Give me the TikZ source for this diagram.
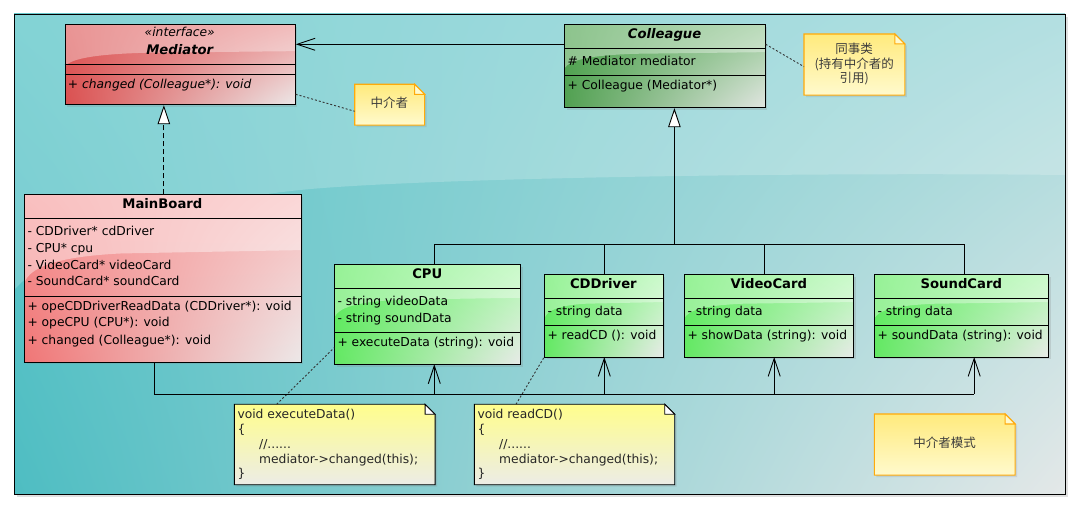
\documentclass[tikz,border=0pt]{standalone}
\usepackage{fontspec}
\setmainfont{DejaVu Sans}
\newfontfamily\cjk{Noto Sans CJK SC}
\usetikzlibrary{arrows.meta,shadows,shadings,calc}
\definecolor{bgTL}{RGB}{100,200,203}
\definecolor{bgTR}{RGB}{160,216,218}
\definecolor{bgBL}{RGB}{78,189,194}
\definecolor{bgBR}{RGB}{228,232,232}
\definecolor{rA1}{RGB}{222,92,92}
\definecolor{rA2}{RGB}{235,152,152}
\definecolor{rA3}{RGB}{218,80,80}
\definecolor{rA4}{RGB}{236,232,232}
\definecolor{rB1}{RGB}{246,150,150}
\definecolor{rB2}{RGB}{248,188,188}
\definecolor{rB3}{RGB}{240,118,118}
\definecolor{rB4}{RGB}{236,232,232}
\definecolor{gD1}{RGB}{80,165,80}
\definecolor{gD2}{RGB}{150,200,150}
\definecolor{gD3}{RGB}{82,160,82}
\definecolor{gD4}{RGB}{226,230,226}
\definecolor{gL1}{RGB}{95,236,95}
\definecolor{gL2}{RGB}{175,248,175}
\definecolor{gL3}{RGB}{100,232,100}
\definecolor{gL4}{RGB}{232,234,232}
\definecolor{ylA}{RGB}{255,254,140}
\definecolor{ylB}{RGB}{245,240,75}
\definecolor{ylC}{RGB}{236,236,230}
\definecolor{ntA}{RGB}{255,234,125}
\definecolor{ntB}{RGB}{255,224,75}
\definecolor{ntC}{RGB}{255,250,205}
\definecolor{ntD}{RGB}{255,170,10}
\definecolor{cjkgray}{RGB}{60,60,60}
\begin{document}
\begin{tikzpicture}[x=1pt,y=-1pt,
  ln/.style={draw=black, line width=0.9pt},
  gloss/.style={path picture={\fill[white,opacity=#1] let \p1=(path picture bounding box.north west), \p2=(path picture bounding box.south east) in
     (\x1,\y1) -- (\x2,\y1) -- (\x2,{\y1+0.33*(\y2-\y1)})
     -- ({\x1+0.35*(\x2-\x1)},{\y1+0.35*(\y2-\y1)})
     .. controls ({\x1+0.1*(\x2-\x1)},{\y1+0.37*(\y2-\y1)}) and ({\x1+0.02*(\x2-\x1)},{\y1+0.44*(\y2-\y1)}) .. (\x1,{\y1+0.52*(\y2-\y1)}) -- cycle;}},
  cls/.style={draw=black, line width=0.9pt, inner sep=0pt, anchor=north west,
    drop shadow={shadow xshift=2pt, shadow yshift=-2pt, opacity=0.22}},
  redA/.style={upper left=rA1, upper right=rA2, lower left=rA3, lower right=rA4, gloss=0.35},
  redB/.style={upper left=rB1, upper right=rB2, lower left=rB3, lower right=rB4, gloss=0.4},
  grnD/.style={upper left=gD1, upper right=gD2, lower left=gD3, lower right=gD4, gloss=0.35},
  grnL/.style={upper left=gL1, upper right=gL2, lower left=gL3, lower right=gL4, gloss=0.35},
  notenode/.style={inner sep=0pt, anchor=north west},
  yellownote/.style={top color=ntA, middle color=ntB, bottom color=ntC, draw=ntD, line width=1.1pt,
    drop shadow={shadow xshift=2pt, shadow yshift=-2pt, opacity=0.18}},
  codenote/.style={top color=ylA, middle color=ylB, bottom color=ylC, draw=black, line width=0.9pt,
    drop shadow={shadow xshift=2pt, shadow yshift=-2pt, opacity=0.22}},
  txt/.style={font=\fontsize{12.3}{14}\selectfont, inner sep=0pt, text height=8.6pt, text depth=0pt, anchor=west},
  txti/.style={txt, font=\fontsize{12.3}{14}\selectfont\itshape},
  ttl/.style={font=\fontsize{13.2}{15}\selectfont\bfseries, inner sep=0pt, text height=9.5pt, text depth=0pt, anchor=center},
  ttli/.style={ttl, font=\fontsize{13.2}{15}\selectfont\bfseries\itshape},
  sttxt/.style={txt, anchor=center, font=\fontsize{12.3}{14}\selectfont\itshape},
  code/.style={font=\fontsize{12.3}{14}\selectfont, inner sep=0pt, text height=8.6pt, text depth=0pt, anchor=west, text=black!85},
  cjktxt/.style={font=\cjk\fontsize{12.5}{14}\selectfont, inner sep=0pt, text height=8.6pt, text depth=0pt, anchor=center, text=cjkgray},
  assoc/.style={ln, -{Straight Barb[length=18pt,width=12pt]}},
  real/.style={ln, dash pattern=on 5pt off 3pt, -{Triangle[fill=white,length=19pt,width=12.5pt]}},
  gen/.style={ln, -{Triangle[fill=white,length=19pt,width=12.5pt]}},
  dotl/.style={draw=black!80, line width=0.9pt, dash pattern=on 2pt off 2pt}
]
\useasboundingbox (0,0) rectangle (1079,518);
% background
\fill[black!12] (17,17) rectangle (1068,497);
\shade[upper left=bgTL, upper right=bgTR, lower left=bgBL, lower right=bgBR] (14,14) rectangle (1065,494);
\fill[white, opacity=0.2] (14,14) -- (1065,14) -- (1065,175) .. controls (800,172) and (420,178) .. (300,190) .. controls (160,205) and (60,240) .. (14,290) -- cycle;
\draw[black, line width=0.9pt] (14,14) rectangle (1065,494);

% Mediator
\node[cls, redA, minimum width=230.1pt, minimum height=80pt] (med) at (64.7,24.3) {};
\draw[ln] (64.7,64.3) -- (294.8,64.3);
\draw[ln] (64.7,74.3) -- (294.8,74.3);
\node[sttxt] (medS) at (179.75,32.7) {«interface»};
\node[ttli] (medT) at (179.75,49.7) {Mediator};
\node[txti] (medM1) at (67.7,84) {+ changed (Colleague*): void};

% Colleague
\node[cls, grnD, minimum width=200.4pt, minimum height=83pt] (col) at (564.4,24.3) {};
\draw[ln] (564.4,48.3) -- (764.8,48.3);
\draw[ln] (564.4,75.3) -- (764.8,75.3);
\node[ttli] (colT) at (664.6,33.7) {Colleague};
\node[txt] (colA1) at (567.4,61) {\# Mediator mediator};
\node[txt] (colM1) at (567.4,85) {+ Colleague (Mediator*)};

% MainBoard
\node[cls, redB, minimum width=276.2pt, minimum height=167.7pt] (mb) at (24.3,194.3) {};
\draw[ln] (24.3,218.3) -- (300.5,218.3);
\draw[ln] (24.3,296.3) -- (300.5,296.3);
\node[ttl] (mbT) at (162.4,203.3) {MainBoard};
\node[txt] (mbA1) at (27.3,231) {- CDDriver* cdDriver};
\node[txt] (mbA2) at (27.3,248) {- CPU* cpu};
\node[txt] (mbA3) at (27.3,265) {- VideoCard* videoCard};
\node[txt] (mbA4) at (27.3,281.7) {- SoundCard* soundCard};
\node[txt] (mbM1) at (27.3,306) {+ opeCDDriverReadData (CDDriver*): void};
\node[txt] (mbM2) at (27.3,322.7) {+ opeCPU (CPU*): void};
\node[txt] (mbM3) at (27.3,340) {+ changed (Colleague*): void};

% CPU
\node[cls, grnL, minimum width=186pt, minimum height=100pt] (cpu) at (334.3,264.3) {};
\draw[ln] (334.3,288.3) -- (520.3,288.3);
\draw[ln] (334.3,332.3) -- (520.3,332.3);
\node[ttl] (cpuT) at (427.3,273.3) {CPU};
\node[txt] (cpuA1) at (337.3,301) {- string videoData};
\node[txt] (cpuA2) at (337.3,318.3) {- string soundData};
\node[txt] (cpuM1) at (337.3,342.3) {+ executeData (string): void};

% CDDriver
\node[cls, grnL, minimum width=118.2pt, minimum height=82.7pt] (cd) at (544.3,274.3) {};
\draw[ln] (544.3,298.7) -- (662.5,298.7);
\draw[ln] (544.3,325.7) -- (662.5,325.7);
\node[ttl] (cdT) at (603.4,283.3) {CDDriver};
\node[txt] (cdA1) at (547.3,311) {- string data};
\node[txt] (cdM1) at (547.3,335.3) {+ readCD (): void};

% VideoCard
\node[cls, grnL, minimum width=169pt, minimum height=82.7pt] (vc) at (684.3,274.3) {};
\draw[ln] (684.3,298.7) -- (853.3,298.7);
\draw[ln] (684.3,325.7) -- (853.3,325.7);
\node[ttl] (vcT) at (768.8,283.3) {VideoCard};
\node[txt] (vcA1) at (687.3,311) {- string data};
\node[txt] (vcM1) at (687.3,335.3) {+ showData (string): void};

% SoundCard
\node[cls, grnL, minimum width=173.9pt, minimum height=82.7pt] (sc) at (874.4,274.3) {};
\draw[ln] (874.4,298.7) -- (1048.3,298.7);
\draw[ln] (874.4,325.7) -- (1048.3,325.7);
\node[ttl] (scT) at (961.35,283.3) {SoundCard};
\node[txt] (scA1) at (877.4,311) {- string data};
\node[txt] (scM1) at (877.4,335.3) {+ soundData (string): void};

% notes
\node[notenode, minimum width=69.5pt, minimum height=40.4pt] (n1) at (354.7,84.3) {};
\shade[yellownote] (n1.north west) -- ([xshift=-10pt]n1.north east) -- ([yshift=-10pt]n1.north east) -- (n1.south east) -- (n1.south west) -- cycle;
\draw[draw=ntD, line width=1pt, fill=ntC] ([xshift=-10pt]n1.north east) -- ([xshift=-10pt,yshift=-10pt]n1.north east) -- ([yshift=-10pt]n1.north east) -- cycle;
\node[cjktxt] (n1t) at (389.4,103.3) {中介者};

\node[notenode, minimum width=100.4pt, minimum height=60.7pt] (n2) at (804,34) {};
\shade[yellownote] (n2.north west) -- ([xshift=-10pt]n2.north east) -- ([yshift=-10pt]n2.north east) -- (n2.south east) -- (n2.south west) -- cycle;
\draw[draw=ntD, line width=1pt, fill=ntC] ([xshift=-10pt]n2.north east) -- ([xshift=-10pt,yshift=-10pt]n2.north east) -- ([yshift=-10pt]n2.north east) -- cycle;
\node[cjktxt] (n2a) at (854.2,49.3) {同事类};
\node[cjktxt] (n2b) at (854.2,63.8) {(持有中介者的};
\node[cjktxt] (n2c) at (854.2,78.7) {引用)};

\node[notenode, minimum width=140.4pt, minimum height=60.7pt] (n3) at (874.3,414) {};
\shade[yellownote] (n3.north west) -- ([xshift=-10pt]n3.north east) -- ([yshift=-10pt]n3.north east) -- (n3.south east) -- (n3.south west) -- cycle;
\draw[draw=ntD, line width=1pt, fill=ntC] ([xshift=-10pt]n3.north east) -- ([xshift=-10pt,yshift=-10pt]n3.north east) -- ([yshift=-10pt]n3.north east) -- cycle;
\node[cjktxt] (n3t) at (944.5,443.3) {中介者模式};

\node[notenode, minimum width=200.4pt, minimum height=80pt] (c1) at (234.3,404.3) {};
\shade[codenote] (c1.north west) -- ([xshift=-10pt]c1.north east) -- ([yshift=-10pt]c1.north east) -- (c1.south east) -- (c1.south west) -- cycle;
\draw[ln, fill=white] ([xshift=-10pt]c1.north east) -- ([xshift=-10pt,yshift=-10pt]c1.north east) -- ([yshift=-10pt]c1.north east) -- cycle;
\node[code] (c1a) at (237.3,414.3) {void executeData()};
\node[code] (c1b) at (237.3,429.3) {\{};
\node[code] (c1c) at (259,444) {//......};
\node[code] (c1d) at (259,458.7) {mediator->changed(this);};
\node[code] (c1e) at (237.3,473.3) {\}};

\node[notenode, minimum width=200pt, minimum height=80pt] (c2) at (474.3,404.3) {};
\shade[codenote] (c2.north west) -- ([xshift=-10pt]c2.north east) -- ([yshift=-10pt]c2.north east) -- (c2.south east) -- (c2.south west) -- cycle;
\draw[ln, fill=white] ([xshift=-10pt]c2.north east) -- ([xshift=-10pt,yshift=-10pt]c2.north east) -- ([yshift=-10pt]c2.north east) -- cycle;
\node[code] (c2a) at (477.3,414.3) {void readCD()};
\node[code] (c2b) at (477.3,429.3) {\{};
\node[code] (c2c) at (499,444) {//......};
\node[code] (c2d) at (499,458.7) {mediator->changed(this);};
\node[code] (c2e) at (477.3,473.3) {\}};

% connectors
\draw[assoc] ([yshift=-20pt]col.north west) -- ([yshift=-20pt]med.north east);
\draw[real] ([xshift=1pt]mb.north) -- ([xshift=1pt]mb.north |- med.south);
\draw[dotl] ([yshift=-70pt]med.north east) -- ([yshift=-27pt]n1.north west);
\draw[dotl] ([yshift=-20pt]col.north east) -- ([yshift=-32.7pt]n2.north west);
\draw[dotl] ([xshift=42.4pt]c1.north west) -- ([yshift=17.6pt]cpu.south west);
\draw[dotl] ([xshift=41.7pt]c2.north west) -- ([yshift=1pt]cd.south west);

% generalization tree
\coordinate (gx) at (674.4,244.3);
\coordinate (cpuTop) at (434.3,264.3);
\coordinate (cdTop) at (604.3,274.3);
\coordinate (vcTop) at (764.2,274.3);
\coordinate (scTop) at (964.2,274.3);
\draw[gen] (gx) -- (gx |- col.south);
\draw[ln] (cpuTop) -- (cpuTop |- gx) -- (scTop |- gx) -- (scTop);
\draw[ln] (cdTop |- gx) -- (cdTop);
\draw[ln] (vcTop |- gx) -- (vcTop);

% dependency bus
\coordinate (bb) at (154.3,394);
\coordinate (cpuB) at (434.3,364.3);
\coordinate (cdB) at (604.3,357);
\coordinate (vcB) at (774.2,357);
\coordinate (scB) at (974.2,357);
\draw[ln] (bb |- mb.south) -- (bb) -- (scB |- bb);
\draw[assoc] (cpuB |- bb) -- (cpuB);
\draw[assoc] (cdB |- bb) -- (cdB);
\draw[assoc] (vcB |- bb) -- (vcB);
\draw[assoc] (scB |- bb) -- (scB);
\end{tikzpicture}
\end{document}
